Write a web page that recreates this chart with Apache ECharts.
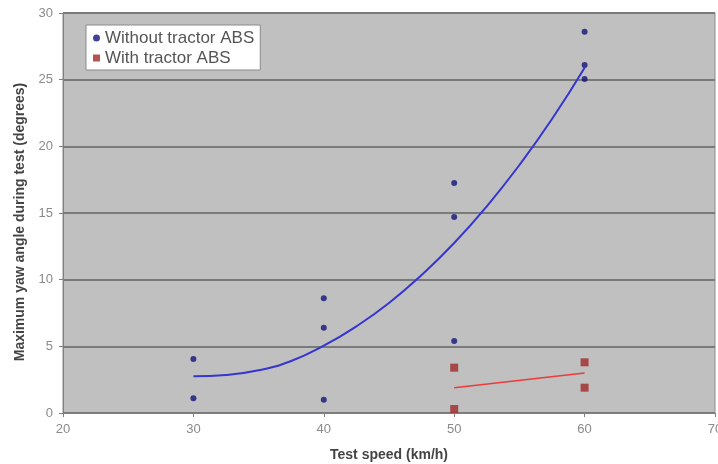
<!DOCTYPE html>
<html><head><meta charset="utf-8">
<script src="https://cdn.jsdelivr.net/npm/echarts@6/dist/echarts.min.js"></script>
<style>html,body{margin:0;padding:0;background:#fff}#c{width:718px;height:464px}</style>
</head><body><div id="c"></div>
<script>
const xTicks = [20, 30, 40, 50, 60, 70];
const yTicks = [0, 5, 10, 15, 20, 25, 30];
const withoutABS = [[30,4.05],[30,1.1],[40,8.6],[40,6.4],[40,1.0],[50,17.25],[50,14.7],[50,5.4],[60,28.6],[60,26.1],[60,25.05]];
const withABS = [[50,3.4],[50,0.3],[60,3.8],[60,1.9]];
const blueTrend = [[30,2.75],[32.5,2.85],[35,3.2],[37.5,3.9],[40,5.05],[42.5,6.5],[45,8.25],[47.5,10.35],[50,12.75],[52.5,15.5],[55,18.6],[57.5,22.05],[60,25.9]];
const redTrend = [[50,1.9],[60,3.0]];

const chart = echarts.init(document.getElementById('c'));
chart.setOption({
  animation:false,
  backgroundColor:'#fff',
  grid:{left:63,right:3,top:13,bottom:51,containLabel:false,outerBoundsMode:'none',show:true,backgroundColor:'#c0c0c0',borderColor:'#8c8c8c',borderWidth:1},
  legend:{
    orient:'vertical',left:86,top:25,itemGap:0,padding:[3,6,2,7],
    backgroundColor:'#ffffff',borderColor:'#8a8a8a',borderWidth:1,
    itemWidth:7,itemHeight:7,
    textStyle:{fontFamily:'Liberation Sans',fontSize:17,lineHeight:20,color:'#555'},
    data:[{name:'Without tractor ABS',icon:'circle'},{name:'With tractor ABS',icon:'rect'}]
  },
  xAxis:{type:'value',min:20,max:70,interval:10,
    name:'Test speed (km/h)',nameLocation:'middle',nameGap:35,
    nameTextStyle:{fontFamily:'Liberation Sans',fontWeight:'bold',fontSize:14,color:'#444'},
    axisLine:{lineStyle:{color:'#808080'}},axisTick:{show:true,length:4,lineStyle:{color:'#808080'}},
    axisLabel:{fontFamily:'Liberation Sans',fontSize:13,color:'#8a8a8a',margin:10,formatter:v=>xTicks.includes(v)?String(v):''},
    splitLine:{show:false}},
  yAxis:{type:'value',min:0,max:30,interval:5,
    name:'Maximum yaw angle during test (degrees)',nameLocation:'middle',nameGap:35,
    nameTextStyle:{fontFamily:'Liberation Sans',fontWeight:'bold',fontSize:14,color:'#444',padding:[0,18,0,0]},
    axisLine:{show:true,lineStyle:{color:'#808080'}},axisTick:{show:true,length:4,lineStyle:{color:'#808080'}},
    axisLabel:{fontFamily:'Liberation Sans',fontSize:13,color:'#8a8a8a',margin:10,formatter:v=>yTicks.includes(v)?String(v):''},
    splitLine:{show:true,lineStyle:{color:'#7a7a7a',width:2}}},
  series:[
    {name:'Without tractor ABS',type:'scatter',data:withoutABS,symbol:'circle',symbolSize:6,itemStyle:{color:'#14147a'},z:5},
    {name:'With tractor ABS',type:'scatter',data:withABS,symbol:'rect',symbolSize:8,itemStyle:{color:'#a02828'},z:5},
    {name:'trend1',type:'line',data:blueTrend,smooth:0.5,showSymbol:false,lineStyle:{color:'#3535d0',width:2},z:3},
    {name:'trend2',type:'line',data:redTrend,showSymbol:false,lineStyle:{color:'#ee3a3a',width:1.5},z:3}
  ]
});
</script></body></html>
